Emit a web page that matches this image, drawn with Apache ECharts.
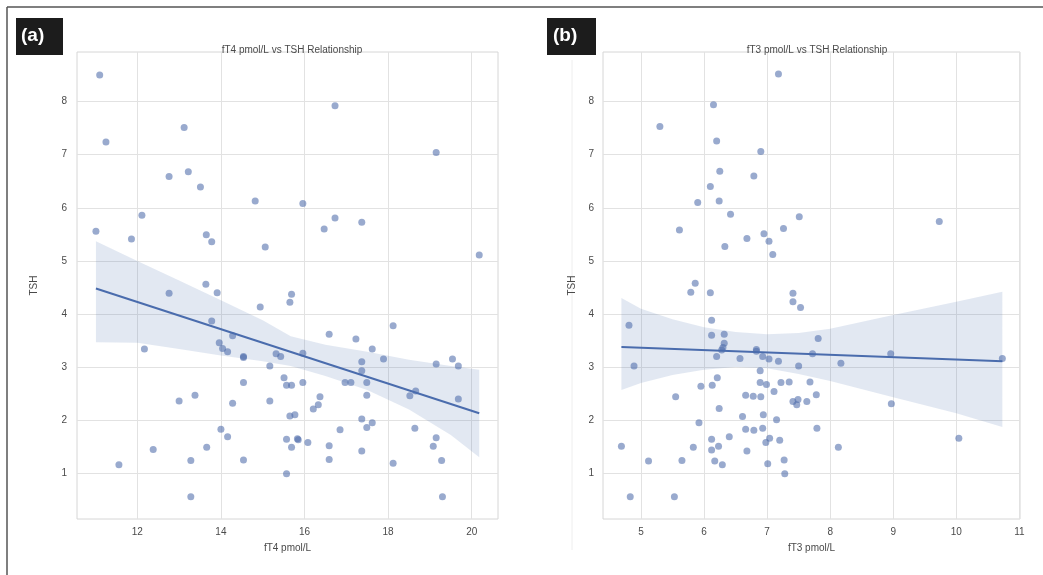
<!DOCTYPE html>
<html><head><meta charset="utf-8">
<script src="https://cdn.jsdelivr.net/npm/echarts@6/dist/echarts.min.js"></script>
<style>html,body{margin:0;padding:0;background:#fff}#c{width:1043px;height:575px}</style>
</head><body><div id="c"></div>
<script>
// ---------- Panel (a): fT4 vs TSH ----------
const ft4Values = [11.10,11.25,13.12,12.76,13.22,13.51,14.82,15.96,12.11,11.01,11.86,13.65,13.78,15.06,13.64,12.76,13.91,15.69,15.65,16.73,19.15,16.73,16.47,17.37,20.18,14.94,13.78,13.96,14.04,14.16,14.28,12.17,14.54,14.54,15.32,15.43,15.17,15.51,15.57,15.69,14.54,13.00,13.38,14.28,15.17,15.65,15.77,14.00,14.16,13.66,12.38,15.57,15.83,15.85,15.69,13.28,14.54,11.56,15.57,18.12,16.59,17.23,17.62,15.96,17.89,17.37,17.37,19.15,19.54,19.68,15.96,16.97,17.11,17.49,17.49,18.52,18.66,19.68,16.37,16.33,16.21,17.37,17.62,17.49,16.85,18.64,19.15,19.08,16.08,16.59,17.37,16.59,18.12,19.28,13.28,19.30];
const tshValuesA = [8.50,7.24,7.51,6.59,6.68,6.39,6.13,6.08,5.86,5.56,5.41,5.49,5.36,5.26,4.56,4.39,4.40,4.37,4.22,7.92,7.04,5.81,5.60,5.73,5.11,4.13,3.87,3.46,3.35,3.29,3.59,3.34,3.20,3.18,3.25,3.20,3.02,2.80,2.66,2.66,2.71,2.36,2.47,2.32,2.36,2.08,2.10,1.83,1.69,1.49,1.45,1.64,1.65,1.63,1.49,1.24,1.25,1.16,0.99,3.78,3.62,3.53,3.34,3.26,3.15,3.10,2.93,3.06,3.15,3.02,2.71,2.71,2.71,2.71,2.47,2.46,2.55,2.40,2.44,2.29,2.21,2.02,1.95,1.86,1.82,1.85,1.67,1.51,1.58,1.52,1.42,1.26,1.19,1.24,0.56,0.56];
const regLineAX = [11.01, 20.18];
const regLineAY = [4.48, 2.13];
const bandAX     = [11.01,12.0,13.0,14.0,15.0,15.67,16.5,17.5,18.5,19.5,20.18];
const bandAUpper = [5.37,5.00,4.63,4.26,3.88,3.58,3.42,3.29,3.14,3.02,2.95];
const bandALower = [3.47,3.46,3.34,3.22,3.11,3.02,2.83,2.57,2.20,1.72,1.30];
const xTicksA = [12,14,16,18,20];

// ---------- Panel (b): fT3 vs TSH ----------
const ft3Values = [7.18,6.15,5.30,6.20,6.90,6.25,6.79,6.10,6.24,5.90,6.42,7.51,7.26,5.61,6.95,6.68,7.03,6.33,7.09,5.86,5.79,6.10,7.41,9.73,7.41,7.53,4.81,6.12,6.12,6.32,6.32,6.28,6.30,6.20,6.57,6.83,6.83,6.93,7.03,7.18,7.50,4.89,6.89,6.21,6.89,6.99,5.95,6.13,7.22,7.35,7.68,7.11,5.55,6.66,6.78,6.90,7.41,7.49,7.47,7.63,6.24,6.61,6.94,7.15,5.92,6.66,6.79,6.93,6.40,6.12,7.04,6.98,7.20,4.69,5.83,6.12,6.23,6.68,5.12,5.65,6.17,6.29,7.01,7.27,7.28,7.81,7.72,8.17,8.96,10.73,7.78,8.97,7.79,8.13,10.04,4.83,5.53];
const tshValuesB = [8.52,7.94,7.53,7.26,7.06,6.69,6.60,6.40,6.13,6.10,5.88,5.83,5.61,5.58,5.51,5.42,5.37,5.27,5.12,4.58,4.41,4.40,4.39,5.74,4.23,4.12,3.79,3.88,3.60,3.62,3.45,3.32,3.37,3.20,3.16,3.33,3.30,3.20,3.15,3.11,3.02,3.02,2.93,2.80,2.71,2.67,2.64,2.66,2.71,2.72,2.72,2.54,2.44,2.47,2.45,2.44,2.35,2.39,2.29,2.35,2.22,2.07,2.10,2.01,1.95,1.83,1.81,1.85,1.69,1.64,1.66,1.58,1.62,1.51,1.49,1.44,1.51,1.42,1.23,1.24,1.23,1.16,1.18,1.25,0.99,3.54,3.25,3.07,3.25,3.16,2.48,2.31,1.85,1.49,1.66,0.56,0.56];
const regLineBX = [4.69, 10.73];
const regLineBY = [3.38, 3.11];
const bandBX     = [4.69,5.0,5.5,6.0,6.5,7.0,7.5,8.0,9.0,10.0,10.73];
const bandBUpper = [4.30,4.10,3.90,3.75,3.66,3.62,3.64,3.72,3.98,4.23,4.42];
const bandBLower = [2.57,2.70,2.85,2.95,3.00,2.98,2.87,2.74,2.43,2.13,1.87];
const xTicksB = [5,6,7,8,9,10,11];

const yTicks = [1,2,3,4,5,6,7,8];

const FONT = '"Liberation Sans", Arial, sans-serif';
const TXT = '#4a4a4a';
const GRID_C = '#e2e2e2';

function zip(a, b) { return a.map((v, i) => [v, b[i]]); }

function bandSeries(idx, xs, up, lo) {
  return {
    type: 'custom', xAxisIndex: idx, yAxisIndex: idx, silent: true, z: 3,
    data: [[xs[0], up[0]]],
    renderItem: function (params, api) {
      const pts = [];
      for (let i = 0; i < xs.length; i++) pts.push(api.coord([xs[i], up[i]]));
      for (let i = xs.length - 1; i >= 0; i--) pts.push(api.coord([xs[i], lo[i]]));
      return { type: 'polygon', shape: { points: pts }, style: { fill: 'rgba(76,114,176,0.16)' } };
    }
  };
}

function xAxisCfg(idx, min, max, ticks, name) {
  return {
    gridIndex: idx, type: 'value', min: min, max: max,
    axisLine: { show: false }, 
    axisTick: { show: false, customValues: ticks },
    axisLabel: { customValues: ticks, color: TXT, fontSize: 10, fontFamily: FONT, margin: 8 },
    splitLine: { show: true, lineStyle: { color: GRID_C, width: 1 } },
    name: name, nameLocation: 'middle', nameGap: 24,
    nameTextStyle: { color: TXT, fontSize: 10, fontFamily: FONT }
  };
}
function yAxisCfg(idx, gap, margin) {
  return {
    gridIndex: idx, type: 'value', min: 0.139, max: 8.934,
    axisLine: { show: false },
    axisTick: { show: false, customValues: yTicks },
    axisLabel: { customValues: yTicks, color: TXT, fontSize: 10, fontFamily: FONT, margin: margin },
    splitLine: { show: true, lineStyle: { color: GRID_C, width: 1 } },
    name: 'TSH', nameLocation: 'middle', nameGap: gap, nameRotate: 90,
    nameTextStyle: { color: TXT, fontSize: 10, fontFamily: FONT }
  };
}

const scatterStyle = { color: '#4c6aa8', opacity: 0.57 };

const chart = echarts.init(document.getElementById('c'), null, { renderer: 'canvas' });
chart.setOption({
  backgroundColor: '#ffffff',
  animation: false,
  title: [
    { text: 'fT4 pmol/L vs TSH Relationship', left: 287, top: 40, textAlign: 'center',
      textStyle: { color: TXT, fontSize: 10, fontWeight: 'normal', fontFamily: FONT } },
    { text: 'fT3 pmol/L vs TSH Relationship', left: 812, top: 40, textAlign: 'center',
      textStyle: { color: TXT, fontSize: 10, fontWeight: 'normal', fontFamily: FONT } }
  ],
  grid: [
    { left: 77, top: 52, width: 421, height: 467, show: true, borderColor: '#d6d6d6', borderWidth: 1, backgroundColor: '#fff' },
    { left: 603, top: 52, width: 417, height: 467, show: true, borderColor: '#d6d6d6', borderWidth: 1, backgroundColor: '#fff' }
  ],
  xAxis: [
    xAxisCfg(0, 10.557, 20.629, xTicksA, 'fT4 pmol/L'),
    xAxisCfg(1, 4.398, 11.01, xTicksB, 'fT3 pmol/L')
  ],
  yAxis: [ yAxisCfg(0, 38, 10), yAxisCfg(1, 26, 9) ],
  series: [
    { type: 'scatter', xAxisIndex: 0, yAxisIndex: 0, data: zip(ft4Values, tshValuesA),
      symbolSize: 7, itemStyle: scatterStyle, z: 2, silent: true },
    bandSeries(0, bandAX, bandAUpper, bandALower),
    { type: 'line', xAxisIndex: 0, yAxisIndex: 0, data: zip(regLineAX, regLineAY), showSymbol: false,
      symbol: 'none', lineStyle: { color: '#4a6cad', width: 2 }, z: 4, silent: true },
    { type: 'scatter', xAxisIndex: 1, yAxisIndex: 1, data: zip(ft3Values, tshValuesB),
      symbolSize: 7, itemStyle: scatterStyle, z: 2, silent: true },
    bandSeries(1, bandBX, bandBUpper, bandBLower),
    { type: 'line', xAxisIndex: 1, yAxisIndex: 1, data: zip(regLineBX, regLineBY), showSymbol: false,
      symbol: 'none', lineStyle: { color: '#4a6cad', width: 2 }, z: 4, silent: true }
  ],
  graphic: [
    { type: 'line', shape: { x1: 7, y1: 7, x2: 1043, y2: 7 }, style: { stroke: '#555', lineWidth: 1.5 } },
    { type: 'line', shape: { x1: 7, y1: 7, x2: 7, y2: 575 }, style: { stroke: '#555', lineWidth: 1.5 } },
    { type: 'line', shape: { x1: 572, y1: 60, x2: 572, y2: 550 }, style: { stroke: '#eeeeee', lineWidth: 1 } },
    { type: 'rect', shape: { x: 16, y: 18, width: 47, height: 37 }, style: { fill: '#1c1c1c' } },
    { type: 'text', left: 21, top: 26, style: { text: '(a)', fill: '#fff', font: 'bold 19px ' + FONT } },
    { type: 'rect', shape: { x: 547, y: 18, width: 49, height: 37 }, style: { fill: '#1c1c1c' } },
    { type: 'text', left: 553, top: 26, style: { text: '(b)', fill: '#fff', font: 'bold 19px ' + FONT } }
  ]
});
</script>
</body></html>
